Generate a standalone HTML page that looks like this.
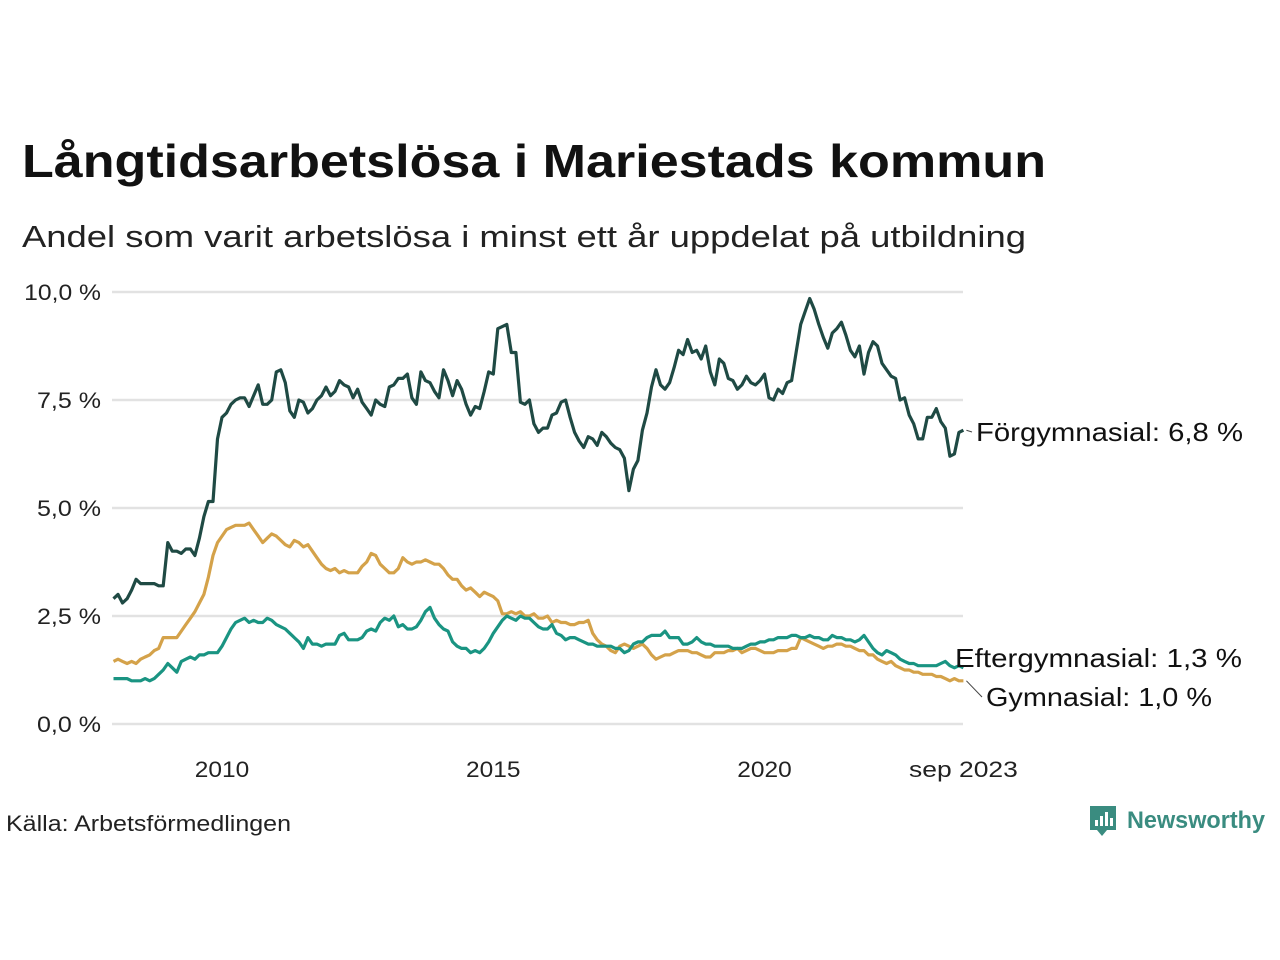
<!DOCTYPE html>
<html><head><meta charset="utf-8"><style>
html,body{margin:0;padding:0;background:#fff;}
svg{display:block;font-family:"Liberation Sans","DejaVu Sans",sans-serif;}
</style></head><body>
<svg id="chart" width="1280" height="960" viewBox="0 0 1280 960" xmlns="http://www.w3.org/2000/svg">
<text x="22" y="177" font-size="46" font-weight="bold" fill="#111" textLength="1024" lengthAdjust="spacingAndGlyphs">Långtidsarbetslösa i Mariestads kommun</text>
<text x="22" y="247" font-size="31" fill="#222" textLength="1004" lengthAdjust="spacingAndGlyphs">Andel som varit arbetslösa i minst ett år uppdelat på utbildning</text>
<g id="grid"></g>
<g id="yticks"></g>
<g id="xticks"></g>
<g id="series"></g>
<g id="labels"></g>
<text x="6" y="831" font-size="22" fill="#222" textLength="285" lengthAdjust="spacingAndGlyphs">Källa: Arbetsförmedlingen</text>
<g>
<path d="M1090 806 h26 v24 h-9 l-5 6 l-5 -6 h-7 z" fill="#3a8c80"/>
<rect x="1095" y="820" width="3" height="6" fill="#fff"/><rect x="1100" y="816" width="3" height="10" fill="#fff"/><rect x="1105" y="812" width="3" height="14" fill="#fff"/><rect x="1110" y="818" width="3" height="8" fill="#fff"/>
<text x="1127" y="828" font-size="24" font-weight="bold" fill="#3a8c80" textLength="138" lengthAdjust="spacingAndGlyphs">Newsworthy</text>
</g>
</svg>
<script>
const yTicks=[0,2.5,5,7.5,10];
const yTickLabels=["0,0 %","2,5 %","5,0 %","7,5 %","10,0 %"];
const xTicks=[2010,2015,2020,2023+8/12];
const xTickLabels=["2010","2015","2020","sep 2023"];
const startYear=2008;
const forgym=[2.9,3.0,2.8,2.9,3.1,3.35,3.25,3.25,3.25,3.25,3.2,3.2,
4.2,4.0,4.0,3.95,4.05,4.05,3.9,4.3,4.8,5.15,5.15,6.6,
7.1,7.2,7.4,7.5,7.55,7.55,7.35,7.6,7.85,7.4,7.4,7.5,
8.15,8.2,7.9,7.25,7.1,7.5,7.45,7.2,7.3,7.5,7.6,7.8,
7.6,7.7,7.95,7.85,7.8,7.55,7.75,7.45,7.3,7.15,7.5,7.4,
7.35,7.8,7.85,8.0,8.0,8.1,7.55,7.4,8.15,7.95,7.9,7.7,
7.55,8.2,7.95,7.6,7.95,7.75,7.4,7.15,7.35,7.3,7.7,8.15,
8.1,9.15,9.2,9.25,8.6,8.6,7.45,7.4,7.5,6.95,6.75,6.85,
6.85,7.15,7.2,7.45,7.5,7.1,6.75,6.55,6.4,6.65,6.6,6.45,
6.75,6.65,6.5,6.4,6.35,6.15,5.4,5.9,6.1,6.8,7.2,7.8,
8.2,7.85,7.75,7.9,8.25,8.65,8.55,8.9,8.6,8.65,8.45,8.75,
8.15,7.85,8.45,8.35,8.0,7.95,7.75,7.85,8.05,7.9,7.85,7.95,
8.1,7.55,7.5,7.75,7.65,7.9,7.95,8.6,9.25,9.55,9.85,9.6,
9.25,8.95,8.7,9.05,9.15,9.3,9.0,8.65,8.5,8.75,8.1,8.6,
8.85,8.75,8.35,8.2,8.05,8.0,7.5,7.55,7.15,6.95,6.6,6.6,
7.1,7.1,7.3,7.0,6.85,6.2,6.25,6.75,6.8];
const gym=[1.45,1.5,1.45,1.4,1.45,1.4,1.5,1.55,1.6,1.7,1.75,2.0,
2.0,2.0,2.0,2.15,2.3,2.45,2.6,2.8,3.0,3.4,3.9,4.2,
4.35,4.5,4.55,4.6,4.6,4.6,4.65,4.5,4.35,4.2,4.3,4.4,
4.35,4.25,4.15,4.1,4.25,4.2,4.1,4.15,4.0,3.85,3.7,3.6,
3.55,3.6,3.5,3.55,3.5,3.5,3.5,3.65,3.75,3.95,3.9,3.7,
3.6,3.5,3.5,3.6,3.85,3.75,3.7,3.75,3.75,3.8,3.75,3.7,
3.7,3.6,3.45,3.35,3.35,3.2,3.1,3.15,3.05,2.95,3.05,3.0,
2.95,2.85,2.55,2.55,2.6,2.55,2.6,2.5,2.5,2.55,2.45,2.45,
2.5,2.35,2.4,2.35,2.35,2.3,2.3,2.35,2.35,2.4,2.1,1.95,
1.85,1.8,1.7,1.65,1.8,1.85,1.8,1.75,1.8,1.85,1.75,1.6,
1.5,1.55,1.6,1.6,1.65,1.7,1.7,1.7,1.65,1.65,1.6,1.55,
1.55,1.65,1.65,1.65,1.7,1.7,1.75,1.65,1.7,1.75,1.75,1.7,
1.65,1.65,1.65,1.7,1.7,1.7,1.75,1.75,2.0,1.95,1.9,1.85,
1.8,1.75,1.8,1.8,1.85,1.85,1.8,1.8,1.75,1.7,1.7,1.6,
1.6,1.5,1.45,1.4,1.45,1.35,1.3,1.25,1.25,1.2,1.2,1.15,
1.15,1.15,1.1,1.1,1.05,1.0,1.05,1.0,1.0];
const eftergym=[1.05,1.05,1.05,1.05,1.0,1.0,1.0,1.05,1.0,1.05,1.15,1.25,
1.4,1.3,1.2,1.45,1.5,1.55,1.5,1.6,1.6,1.65,1.65,1.65,
1.8,2.0,2.2,2.35,2.4,2.45,2.35,2.4,2.35,2.35,2.45,2.4,
2.3,2.25,2.2,2.1,2.0,1.9,1.75,2.0,1.85,1.85,1.8,1.85,
1.85,1.85,2.05,2.1,1.95,1.95,1.95,2.0,2.15,2.2,2.15,2.35,
2.45,2.4,2.5,2.25,2.3,2.2,2.2,2.25,2.4,2.6,2.7,2.45,
2.3,2.2,2.15,1.9,1.8,1.75,1.75,1.65,1.7,1.65,1.75,1.9,
2.1,2.25,2.4,2.5,2.45,2.4,2.5,2.45,2.45,2.35,2.25,2.2,
2.2,2.3,2.1,2.05,1.95,2.0,2.0,1.95,1.9,1.85,1.85,1.8,
1.8,1.8,1.8,1.75,1.75,1.65,1.7,1.85,1.9,1.9,2.0,2.05,
2.05,2.05,2.15,2.0,2.0,2.0,1.85,1.85,1.9,2.0,1.9,1.85,
1.85,1.8,1.8,1.8,1.8,1.75,1.75,1.75,1.8,1.85,1.85,1.9,
1.9,1.95,1.95,2.0,2.0,2.0,2.05,2.05,2.0,2.0,2.05,2.0,
2.0,1.95,1.95,2.05,2.0,2.0,1.95,1.95,1.9,1.95,2.05,1.9,
1.75,1.65,1.6,1.7,1.65,1.6,1.5,1.45,1.4,1.4,1.35,1.35,
1.35,1.35,1.35,1.4,1.45,1.35,1.3,1.35,1.3];
const seriesNames=["Förgymnasial","Gymnasial","Eftergymnasial"];
const seriesColors=["#1f4a44","#d4a24a","#1a9482"];

const NS="http://www.w3.org/2000/svg";
const x=t=>222+(t-2010)*54.25;
const y=v=>724-v*43.2;
const xl=112,xr=963;
function mk(tag,attrs,parent){const e=document.createElementNS(NS,tag);for(const k in attrs)e.setAttribute(k,attrs[k]);parent.appendChild(e);return e;}
const grid=document.getElementById('grid'),yt=document.getElementById('yticks'),xt=document.getElementById('xticks');
yTicks.forEach((v,i)=>{
  const l=mk('line',{x1:xl,x2:xr,y1:y(v),y2:y(v),stroke:'#e2e2e2','stroke-width':2.5},grid);
  
  
  const lab=yTickLabels[i];
  const t=mk('text',{x:101,y:y(v)+8,'text-anchor':'end','font-size':22,fill:'#222',textLength:lab.length*12.8,lengthAdjust:'spacingAndGlyphs'},yt);
  t.textContent=lab;
  
  
});
xTicks.forEach((v,i)=>{
  const lab=xTickLabels[i];
  const t=mk('text',{x:x(v),y:777,'text-anchor':'middle','font-size':22,fill:'#222',textLength:lab.length*13.6,lengthAdjust:'spacingAndGlyphs'},xt);
  t.textContent=lab;
  
  
});
const sg=document.getElementById('series');
[forgym,gym,eftergym].forEach((arr,si)=>{
  const d=arr.map((v,i)=>(i?'L':'M')+x(startYear+i/12).toFixed(1)+' '+y(v).toFixed(1)).join(' ');
  const p=mk('path',{d:d,fill:'none',stroke:seriesColors[si],'stroke-width':3.2,'stroke-linejoin':'round'},sg);
  
  
});
const lg=document.getElementById('labels');
function fmt(v){return v.toFixed(1).replace('.',',')+' %';}
const lastX=x(startYear+(forgym.length-1)/12);
const labs=[[seriesNames[0],forgym,976,441,y(forgym[forgym.length-1]),267],[seriesNames[2],eftergym,955,667,null,287],[seriesNames[1],gym,986,706,y(gym[gym.length-1]),226]];
labs.forEach(([n,arr,lx,ly,ay,w])=>{
  if(ay!==null){
    const c=mk('line',{x1:lastX+3,y1:ay,x2:lx-4,y2:ly-9,stroke:'#444','stroke-width':1},lg);
    
    
  }
  const t=mk('text',{x:lx,y:ly,'font-size':26,fill:'#111',textLength:w,lengthAdjust:'spacingAndGlyphs'},lg);
  t.textContent=n+': '+fmt(arr[arr.length-1]);
  
  
});
</script>
</body></html>
